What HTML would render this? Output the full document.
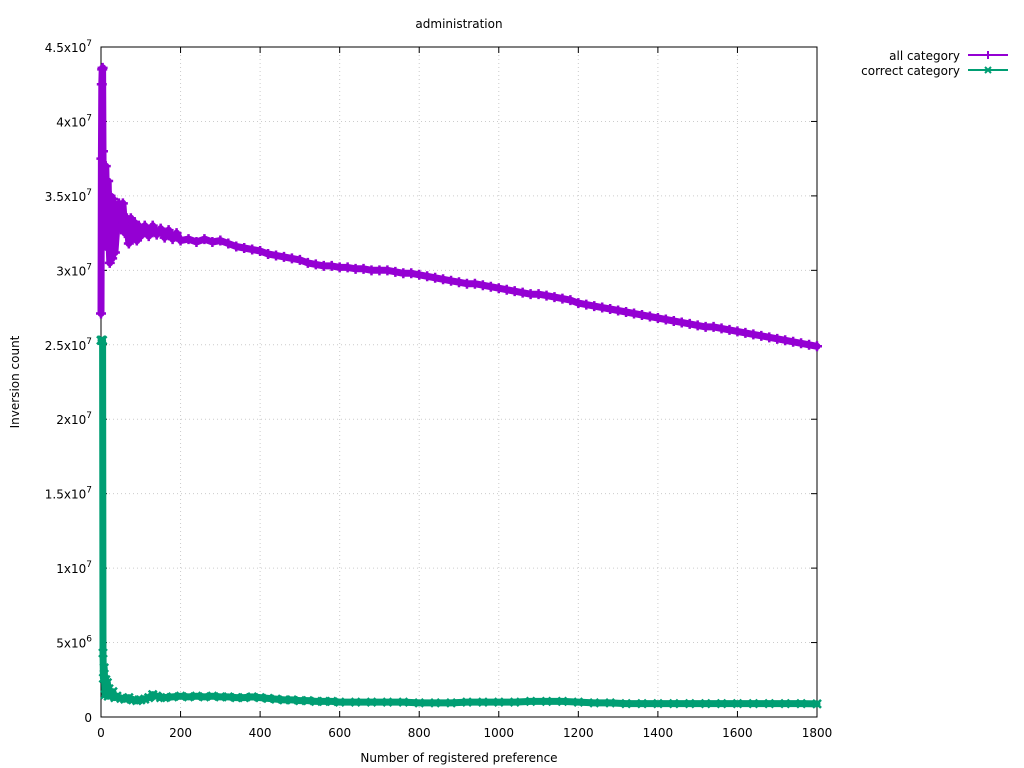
<!DOCTYPE html>
<html><head><meta charset="utf-8"><style>
body{margin:0;background:#fff;}
svg{display:block;font-family:"DejaVu Sans","Liberation Sans",sans-serif;font-size:12px;}
</style></head><body>
<svg id="chart" width="1024" height="768">
<g id="grid"></g>
<g id="axes"></g>
<g id="series"></g>
<text x="459" y="28" text-anchor="middle">administration</text>
<text x="459" y="762" text-anchor="middle">Number of registered preference</text>
<text transform="translate(19,382) rotate(-90)" text-anchor="middle">Inversion count</text>
<g>
 <g>
  <text x="960" y="60" text-anchor="end">all category</text>
  <line x1="968" y1="55" x2="1008" y2="55" stroke="#9400d3" stroke-width="2"/>
  <path d="M984,55h8M988,51v8" stroke="#9400d3" stroke-width="2"/>
 </g>
 <g>
  <text x="960" y="75" text-anchor="end">correct category</text>
  <line x1="968" y1="70" x2="1008" y2="70" stroke="#009e73" stroke-width="2"/>
  <path d="M985,67l6,6M991,67l-6,6" stroke="#009e73" stroke-width="2"/>
 </g>
</g>
</svg>
<script>
const xTicks=[0,200,400,600,800,1000,1200,1400,1600,1800];
const yTicks=[0,5,10,15,20,25,30,35,40,45];
const yTickMant=["0","5x10","1x10","1.5x10","2x10","2.5x10","3x10","3.5x10","4x10","4.5x10"];
const yTickExp=["","6","7","7","7","7","7","7","7","7"];
const allX=[0,1,2,3,4,5,6,8,10,12,14,16,18,20,22,24,26,28,30,32,35,40,45,50,55,60,65,70,75,80,85,90,95,100,110,120,130,140,150,160,170,180,190,200,220,240,260,280,300,320,340,360,380,400,420,440,460,480,500,520,540,560,580,600,620,640,660,680,700,720,740,760,780,800,820,840,860,880,900,920,940,960,980,1000,1020,1040,1060,1080,1100,1120,1140,1160,1180,1200,1220,1240,1260,1280,1300,1320,1340,1360,1380,1400,1420,1440,1460,1480,1500,1520,1540,1560,1580,1600,1620,1640,1660,1680,1700,1720,1740,1760,1780,1800];
const allY=[27.1,37.5,42.5,43.5,43.6,38,33,35.5,32.5,37,34,31.5,36,32,30.5,35,33,30.8,34.8,32,31.2,33,34.5,32.8,34.5,32.5,33.5,31.8,33.5,32.2,33.2,32,33,32.3,33,32.3,33,32.4,32.8,32.2,32.7,32.1,32.5,32,32.1,31.9,32.1,31.9,32.0,31.8,31.6,31.5,31.4,31.3,31.1,31.0,30.9,30.8,30.7,30.5,30.4,30.3,30.3,30.2,30.2,30.1,30.1,30.0,30.0,30.0,29.9,29.8,29.8,29.7,29.6,29.5,29.4,29.3,29.2,29.1,29.1,29.0,28.9,28.8,28.7,28.6,28.5,28.4,28.4,28.3,28.2,28.1,28.0,27.8,27.7,27.6,27.5,27.4,27.3,27.2,27.1,27.0,26.9,26.8,26.7,26.6,26.5,26.4,26.3,26.2,26.2,26.1,26.0,25.9,25.8,25.7,25.6,25.5,25.4,25.3,25.2,25.1,25.0,24.9];
const corX=[0,2,4,5,6,8,10,12,14,16,18,20,25,30,35,40,50,60,70,80,90,100,110,120,130,140,150,160,180,200,220,240,260,280,300,320,340,360,380,400,420,440,460,480,500,520,540,560,580,600,640,680,720,760,800,840,880,920,960,1000,1040,1080,1120,1160,1200,1240,1280,1320,1360,1400,1440,1480,1520,1560,1600,1640,1680,1720,1760,1800];
const corY=[25.3,25.3,25.3,4.3,2.6,3.3,1.5,2.5,1.8,2.3,1.4,1.9,1.5,1.7,1.3,1.4,1.25,1.2,1.3,1.15,1.1,1.15,1.2,1.3,1.5,1.4,1.3,1.3,1.35,1.4,1.35,1.4,1.35,1.4,1.35,1.35,1.3,1.3,1.35,1.3,1.25,1.2,1.15,1.15,1.1,1.1,1.05,1.05,1.05,1.0,1.0,1.0,1.0,1.0,0.95,0.95,0.95,1.0,1.0,1.0,1.0,1.05,1.05,1.05,1.0,0.95,0.95,0.9,0.9,0.9,0.9,0.9,0.9,0.9,0.9,0.9,0.9,0.9,0.9,0.88];
const NS="http://www.w3.org/2000/svg";
const X0=101,X1=817,Y0=717,Y1=47;
function sx(v){return X0+v*(X1-X0)/1800;}
function sy(v){return Y0-v*(Y0-Y1)/45;}
function mk(tag,attrs,parent){const e=document.createElementNS(NS,tag);for(const k in attrs)e.setAttribute(k,attrs[k]);parent.appendChild(e);return e;}
const grid=document.getElementById('grid'),axes=document.getElementById('axes'),series=document.getElementById('series');
xTicks.forEach((t,i)=>{
 const x=sx(t);
 if(i>0&&i<xTicks.length-1){const g=mk('line',{x1:x,y1:Y1,x2:x,y2:Y0,stroke:'#ccc','stroke-dasharray':'1,3'},grid);
 
 }
 mk('line',{x1:x,y1:Y0,x2:x,y2:Y0-6,stroke:'#000'},axes);
 mk('line',{x1:x,y1:Y1,x2:x,y2:Y1+6,stroke:'#000'},axes);
 const l=mk('text',{x:x,y:Y0+20,'text-anchor':'middle'},axes);l.textContent=t;
 
 
});
yTicks.forEach((t,i)=>{
 const y=sy(t);
 if(i>0&&i<yTicks.length-1){const g=mk('line',{x1:X0,y1:y,x2:X1,y2:y,stroke:'#ccc','stroke-dasharray':'1,3'},grid);
 
 }
 mk('line',{x1:X0,y1:y,x2:X0+6,y2:y,stroke:'#000'},axes);
 mk('line',{x1:X1,y1:y,x2:X1-6,y2:y,stroke:'#000'},axes);
 const l=mk('text',{x:92,y:y+5,'text-anchor':'end'},axes);
 
 
 const a=mk('tspan',{},l);a.textContent=yTickMant[i];
 if(yTickExp[i]){const b=mk('tspan',{dy:-6,'font-size':'9px'},l);b.textContent=yTickExp[i];}
});
const frame=mk('rect',{x:X0,y:Y1,width:X1-X0,height:Y0-Y1,fill:'none',stroke:'#000'},axes);


function draw(xs,ys,color,name,cross){
 const g=mk('g',{},series);
 
 
 const d=xs.map((x,i)=>(i?'L':'M')+sx(x).toFixed(1)+','+sy(ys[i]).toFixed(1)).join('');
 mk('path',{d:d,fill:'none',stroke:color,'stroke-width':7,'stroke-linejoin':'round','stroke-linecap':'round'},g);
 mk('path',{d:d,fill:'none',stroke:color,'stroke-width':2},g);
 let m='';
 xs.forEach((x,i)=>{const px=sx(x),py=sy(ys[i]);
  if(cross)m+=`M${px-4},${py-4}l8,8M${px+4},${py-4}l-8,8`;
  else m+=`M${px-5},${py}h10M${px},${py-5}v10`;});
 mk('path',{d:m,stroke:color,'stroke-width':2.5,fill:'none'},g);
}
draw(allX,allY,'#9400d3','series-all-category',false);
draw(corX,corY,'#009e73','series-correct-category',true);
</script>
</body></html>
